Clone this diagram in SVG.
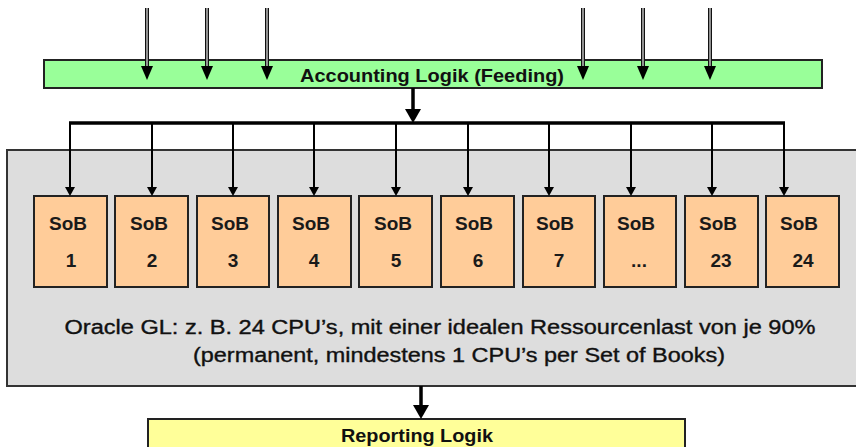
<svg xmlns="http://www.w3.org/2000/svg" width="856" height="447" viewBox="0 0 856 447">
<style>
.sob rect{fill:#ffcc99;stroke:#222;stroke-width:2}
.sob text{font-family:"Liberation Sans",Arial,sans-serif;font-weight:bold;font-size:19px;fill:#1a1a1a;text-anchor:middle}
.outer{stroke:#111;stroke-width:4;fill:none}
.inner{stroke:#c8c8c8;stroke-width:1.4;fill:none}
.thick{stroke:#000;stroke-width:3.5;fill:none}
.lbl{font-family:"Liberation Sans",Arial,sans-serif;fill:#111;text-anchor:middle}
</style>
<rect width="856" height="447" fill="#fff"/>
<g id="oracle">
<rect x="7" y="150" width="860" height="236" fill="#dddddd" stroke="#333" stroke-width="2"/>
<text class="lbl" x="440" y="334" textLength="751" lengthAdjust="spacingAndGlyphs" font-size="19.5" stroke="#111" stroke-width="0.35">Oracle GL: z. B. 24 CPU’s, mit einer idealen Ressourcenlast von je 90%</text>
<text class="lbl" x="459" y="362" textLength="532" lengthAdjust="spacingAndGlyphs" font-size="19.5" stroke="#111" stroke-width="0.35">(permanent, mindestens 1 CPU’s per Set of Books)</text>
</g>
<g id="accounting">
<rect x="44" y="60" width="778" height="28" fill="#99ff99" stroke="#222" stroke-width="2"/>
<text class="lbl" x="432" y="82" textLength="264" lengthAdjust="spacingAndGlyphs" font-weight="bold" font-size="18">Accounting Logik (Feeding)</text>
</g>
<g id="reporting">
<rect x="148" y="419" width="537" height="40" fill="#ffff99" stroke="#222" stroke-width="2"/>
<text class="lbl" x="417" y="442" font-weight="bold" font-size="18" textLength="152" lengthAdjust="spacingAndGlyphs">Reporting Logik</text>
</g>
<g id="sob1" class="sob"><rect x="34" y="196" width="73" height="91"/><text x="68" y="230">SoB</text><text x="71" y="267">1</text></g>
<g id="sob2" class="sob"><rect x="115" y="196" width="73" height="91"/><text x="149" y="230">SoB</text><text x="152" y="267">2</text></g>
<g id="sob3" class="sob"><rect x="197" y="196" width="72" height="91"/><text x="230" y="230">SoB</text><text x="233" y="267">3</text></g>
<g id="sob4" class="sob"><rect x="278" y="196" width="73" height="91"/><text x="311" y="230">SoB</text><text x="314" y="267">4</text></g>
<g id="sob5" class="sob"><rect x="359" y="196" width="73" height="91"/><text x="393" y="230">SoB</text><text x="396" y="267">5</text></g>
<g id="sob6" class="sob"><rect x="441" y="196" width="73" height="91"/><text x="474" y="230">SoB</text><text x="478" y="267">6</text></g>
<g id="sob7" class="sob"><rect x="523" y="196" width="72" height="91"/><text x="555" y="230">SoB</text><text x="559" y="267">7</text></g>
<g id="sob8" class="sob"><rect x="604" y="196" width="72" height="91"/><text x="636" y="230">SoB</text><text x="639" y="267">...</text></g>
<g id="sob23" class="sob"><rect x="685" y="196" width="73" height="91"/><text x="718" y="230">SoB</text><text x="721" y="267">23</text></g>
<g id="sob24" class="sob"><rect x="766" y="196" width="73" height="91"/><text x="799" y="230">SoB</text><text x="803" y="267">24</text></g>
<g id="connectors">
<g id="inputs">
<g><line x1="147" y1="8" x2="147" y2="68" class="outer"/><line x1="147" y1="8" x2="147" y2="68" class="inner"/><path d="M141,66 L153,66 L147,80 Z"/></g>
<g><line x1="207" y1="8" x2="207" y2="68" class="outer"/><line x1="207" y1="8" x2="207" y2="68" class="inner"/><path d="M201,66 L213,66 L207,80 Z"/></g>
<g><line x1="267" y1="8" x2="267" y2="68" class="outer"/><line x1="267" y1="8" x2="267" y2="68" class="inner"/><path d="M261,66 L273,66 L267,80 Z"/></g>
<g><line x1="583" y1="8" x2="583" y2="68" class="outer"/><line x1="583" y1="8" x2="583" y2="68" class="inner"/><path d="M577,66 L589,66 L583,80 Z"/></g>
<g><line x1="643" y1="8" x2="643" y2="68" class="outer"/><line x1="643" y1="8" x2="643" y2="68" class="inner"/><path d="M637,66 L649,66 L643,80 Z"/></g>
<g><line x1="710" y1="8" x2="710" y2="68" class="outer"/><line x1="710" y1="8" x2="710" y2="68" class="inner"/><path d="M704,66 L716,66 L710,80 Z"/></g>
</g>
<line x1="413" y1="88" x2="413" y2="112" class="thick"/>
<path d="M405,109 L421,109 L413,123 Z"/>
<path d="M69,123 L785,123" stroke="#000" stroke-width="3.5" fill="none"/>
<g id="drops" stroke="#000" stroke-width="2">
<line x1="70" y1="123" x2="70" y2="190"/><line x1="152" y1="123" x2="152" y2="190"/><line x1="233" y1="123" x2="233" y2="190"/><line x1="314" y1="123" x2="314" y2="190"/><line x1="396" y1="123" x2="396" y2="190"/><line x1="468" y1="123" x2="468" y2="190"/><line x1="549" y1="123" x2="549" y2="190"/><line x1="631" y1="123" x2="631" y2="190"/><line x1="712" y1="123" x2="712" y2="190"/><line x1="784" y1="123" x2="784" y2="190"/>
</g>
<g id="heads">
<path d="M65,187 L75,187 L70,196 Z"/><path d="M147,187 L157,187 L152,196 Z"/><path d="M228,187 L238,187 L233,196 Z"/><path d="M309,187 L319,187 L314,196 Z"/><path d="M391,187 L401,187 L396,196 Z"/><path d="M463,187 L473,187 L468,196 Z"/><path d="M544,187 L554,187 L549,196 Z"/><path d="M626,187 L636,187 L631,196 Z"/><path d="M707,187 L717,187 L712,196 Z"/><path d="M779,187 L789,187 L784,196 Z"/>
</g>
<line x1="421" y1="386" x2="421" y2="408" class="thick"/>
<path d="M413,405 L429,405 L421,419 Z"/>
</g>
</svg>
